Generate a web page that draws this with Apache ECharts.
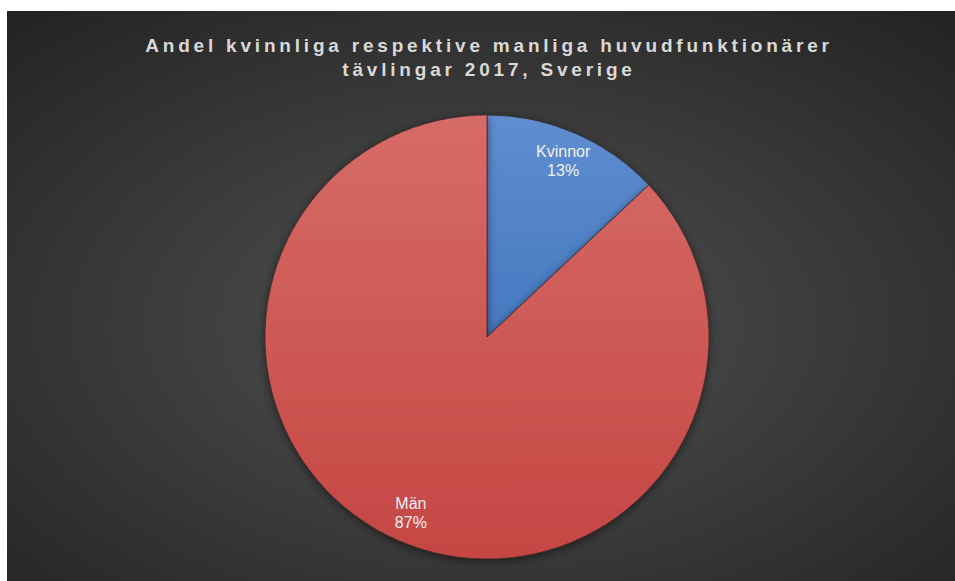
<!DOCTYPE html>
<html>
<head>
<meta charset="utf-8">
<script src="https://cdn.jsdelivr.net/npm/echarts@6/dist/echarts.min.js"></script>
<style>
html,body{margin:0;padding:0;background:#fff;}
#chart{width:955px;height:581px;}
#chart text[style*="bold"], #chart text[font-weight="bold"]{letter-spacing:3.8px;}
</style>
</head>
<body>
<div id="chart"></div>
<script>
const titleLines = ['Andel kvinnliga respektive manliga huvudfunktionärer', 'tävlingar 2017, Sverige'];
const categories = ['Kvinnor', 'Män'];
const shares = [13, 87];

const chart = echarts.init(document.getElementById('chart'), null, {renderer: 'svg'});
const cx = 487, cy = 337, R = 222;

const fills = [
  {type: 'linear', x: 0, y: cy - R, x2: 0, y2: cy, global: true,
   colorStops: [{offset: 0, color: '#5f8ed0'}, {offset: 1, color: '#4678c0'}]},
  {type: 'linear', x: 0, y: cy - R, x2: 0, y2: cy + R, global: true,
   colorStops: [{offset: 0, color: '#d66c67'}, {offset: 1, color: '#c54643'}]}
];

const pieData = categories.map((c, i) => ({
  name: c, value: shares[i],
  itemStyle: {color: fills[i]}
}));

chart.setOption({
  animation: false,
  backgroundColor: '#ffffff',
  graphic: [{
    type: 'rect', silent: true, z: -10,
    shape: {x: 7, y: 11, width: 948, height: 570},
    style: {fill: {type: 'radial', x: 0.5, y: 0.55, r: 0.75,
      colorStops: [{offset: 0, color: '#525252'}, {offset: 1, color: '#222222'}]}}
  }],
  title: {
    text: titleLines.join('\n'),
    left: cx + 2, top: 33, textAlign: 'center', padding: 0,
    textStyle: {color: '#d9d9d9', fontSize: 19, fontWeight: 'bold',
      fontFamily: 'Liberation Sans, Arial, sans-serif', lineHeight: 24}
  },
  series: [{
    type: 'pie',
    center: [cx, cy], radius: [0, R],
    startAngle: 90, clockwise: true,
    data: pieData,
    label: {show: false}, labelLine: {show: false},
    itemStyle: {borderColor: 'rgba(50,35,35,0.65)', borderWidth: 1,
      shadowColor: 'rgba(0,0,0,0.5)', shadowBlur: 8, shadowOffsetY: 2},
    emphasis: {disabled: true}
  }, {
    type: 'pie',
    center: [cx, cy], radius: [R * 0.7, R],
    startAngle: 90, clockwise: true,
    data: categories.map((c, i) => ({name: c, value: shares[i]})),
    itemStyle: {color: 'rgba(0,0,0,0)'},
    label: {show: true, position: 'inside', formatter: '{b}\n{d}%',
      color: '#f2f2f2', fontSize: 16, lineHeight: 19,
      fontFamily: 'Liberation Sans, Arial, sans-serif'},
    labelLine: {show: false},
    emphasis: {disabled: true}, silent: true
  }]
});
</script>
</body>
</html>
